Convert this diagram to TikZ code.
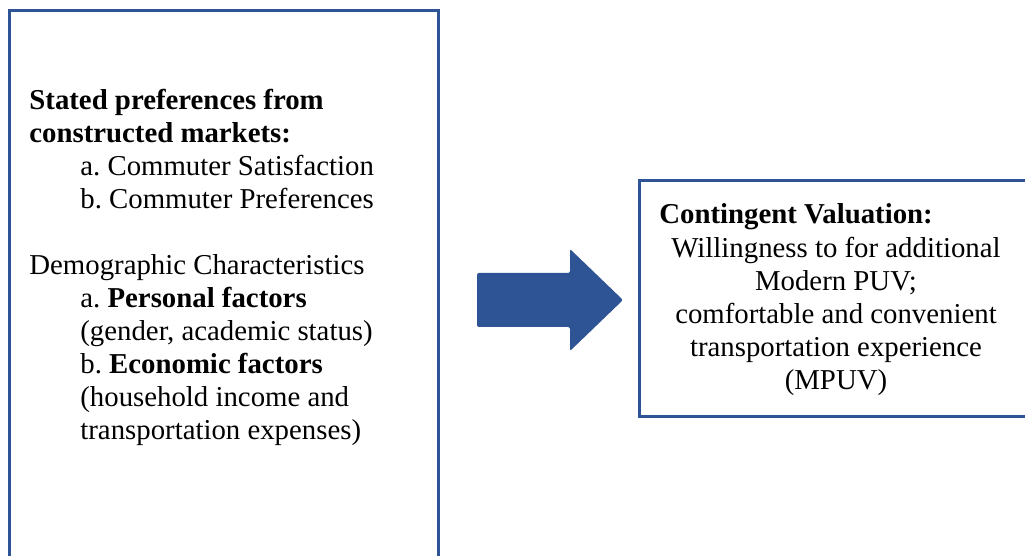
\documentclass[tikz,border=0pt]{standalone}
\usepackage{fontspec}
\setmainfont{Liberation Serif}
\usetikzlibrary{calc}
\definecolor{boxblue}{RGB}{47,84,150}
\frenchspacing

\begin{document}
\begin{tikzpicture}[x=0.5pt,y=-0.5pt,
    frame/.style={draw=boxblue,line width=1.5pt,inner sep=0pt},
    txt/.style={inner sep=0pt,font=\fontsize{14.4}{16.5}\selectfont}]
  \clip (0,0) rectangle (1025,556);
  % boxes (both run off the page)
  \node[frame,minimum width=214.5pt,minimum height=320pt] (stated) at (224,331) {};
  \node[frame,minimum width=240pt,minimum height=118pt] (cv) at (879,299) {};
  % left text
  \node[txt,align=left,anchor=north west] (statedtxt) at (29,88.5) {%
    \textbf{Stated preferences from}\\
    \textbf{constructed markets:}\\
    \hspace*{25.5pt}a. Commuter Satisfaction\\
    \hspace*{25.5pt}b. Commuter Preferences\\[16.5pt]
    Demographic Characteristics\\
    \hspace*{25.5pt}a. \textbf{Personal factors}\\
    \hspace*{25.5pt}(gender, academic status)\\
    \hspace*{25.5pt}b. \textbf{Economic factors}\\
    \hspace*{25.5pt}(household income and\\
    \hspace*{25.5pt}transportation expenses)};
  % right text
  \node[txt,anchor=base west] (cvhead) at (659,224) {\textbf{Contingent Valuation:}};
  \node[txt,align=center,anchor=north] (cvtxt) at (836,237) {%
    Willingness to for additional\\
    Modern PUV;\\
    comfortable and convenient\\
    transportation experience\\
    (MPUV)};
  % block arrow
  \coordinate (tail) at (477,300);
  \coordinate (tip) at (623,300);
  \fill[boxblue,rounded corners=1pt] ($(tail)+(0,-27)$) -- (570,273) -- (570,249)
    -- (tip) -- (570,351) -- (570,327) -- ($(tail)+(0,27)$) -- cycle;
\end{tikzpicture}
\end{document}
